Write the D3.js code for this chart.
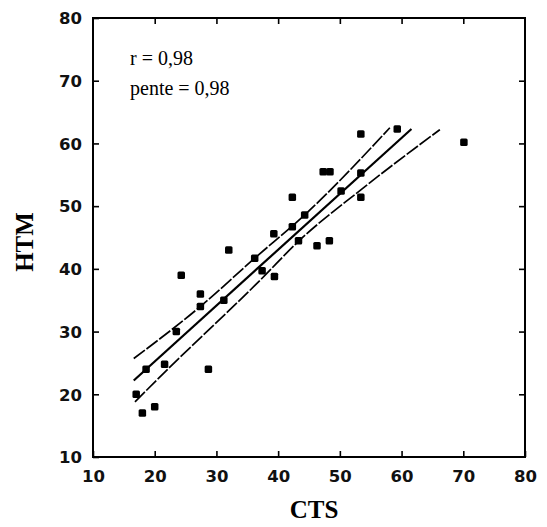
<!DOCTYPE html>
<html>
<head>
<meta charset="utf-8">
<script src="https://cdn.jsdelivr.net/npm/d3@7"></script>
<style>
  body { margin: 0; background: #fff; }
  .tick text { font-family: 'DejaVu Sans', sans-serif; font-weight: bold; font-size: 16.5px; }
</style>
</head>
<body>
<svg id="canvas"></svg>
<script>
// CTS (x) / HTM (y) values
let ctsValues = [17, 18, 20, 18.6, 21.6, 23.5, 24.3, 27.4, 27.4, 28.7, 31.2, 32, 36.2, 37.4, 39.3,
  39.4, 42.3, 42.3, 43.3, 44.3, 46.3, 47.3, 48.4, 48.3, 50.2, 53.4, 53.4, 53.4, 59.3, 70.1]
let htmValues = [20, 17, 18, 24, 24.8, 30, 39, 34, 36, 24, 35, 43, 41.7, 39.7, 45.6,
  38.8, 46.7, 51.4, 44.5, 48.6, 43.7, 55.5, 55.5, 44.5, 52.4, 51.4, 55.3, 61.5, 62.3, 60.2]

// regression line and the two confidence bands
let fitLine = [[16.6, 22.2], [61.6, 62.3]]
let upperBand = [[16.6, 25.7], [27.4, 34], [36.2, 41.7], [44.3, 48.6], [58.1, 62.5]]
let lowerBand = [[16.8, 18.8], [21.6, 23.5], [37.4, 38.5], [43.2, 44.3], [53.4, 52.6], [66.2, 62.2]]

let xTicks = [10, 20, 30, 40, 50, 60, 70, 80]
let yTicks = [10, 20, 30, 40, 50, 60, 70, 80]
let annotations = ['r = 0,98', 'pente = 0,98']

let width = 547
let height = 527
let svg = d3.select('#canvas')
svg.attr('width', width)
svg.attr('height', height)

let pLeft = 93, pRight = 525, pTop = 18, pBottom = 457

let xScale = d3.scaleLinear().domain([10, 80]).range([pLeft, pRight])
let yScale = d3.scaleLinear().domain([10, 80]).range([pBottom, pTop])

// frame
svg.append('rect')
  .attr('x', pLeft).attr('y', pTop)
  .attr('width', pRight - pLeft).attr('height', pBottom - pTop)
  .attr('fill', 'none').attr('stroke', '#000').attr('stroke-width', 2)

// axes with inward ticks
let xAxis = d3.axisBottom(xScale).tickValues(xTicks).tickSizeInner(-6).tickSizeOuter(0).tickPadding(13)
let gx = svg.append('g').attr('transform', 'translate(0,' + pBottom + ')').call(xAxis)

let yAxis = d3.axisLeft(yScale).tickValues(yTicks).tickSizeInner(-6).tickSizeOuter(0).tickPadding(11)
let gy = svg.append('g').attr('transform', 'translate(' + pLeft + ',0)').call(yAxis)

let topAxis = d3.axisTop(xScale).tickValues(xTicks.slice(1, -1)).tickSizeInner(-6).tickSizeOuter(0).tickFormat('')
svg.append('g').attr('transform', 'translate(0,' + pTop + ')').call(topAxis)

let rightAxis = d3.axisRight(yScale).tickValues(yTicks.slice(1, -1)).tickSizeInner(-6).tickSizeOuter(0).tickFormat('')
svg.append('g').attr('transform', 'translate(' + pRight + ',0)').call(rightAxis)

svg.selectAll('.domain').remove()
svg.selectAll('.tick line').attr('stroke', '#000').attr('stroke-width', 1.6)
gx.selectAll('.tick text').attr('fill', '#111')
gy.selectAll('.tick text').attr('fill', '#111').attr('dy', '0.35em')

// lines
let line = d3.line()
  .x((d) => xScale(d[0]))
  .y((d) => yScale(d[1]))
  .curve(d3.curveMonotoneX)

svg.append('path').datum(upperBand).attr('d', line)
  .attr('fill', 'none').attr('stroke', '#000').attr('stroke-width', 1.7).attr('stroke-dasharray', '14,2')
svg.append('path').datum(lowerBand).attr('d', line)
  .attr('fill', 'none').attr('stroke', '#000').attr('stroke-width', 1.7).attr('stroke-dasharray', '14,2')
svg.append('path').datum(fitLine).attr('d', line)
  .attr('fill', 'none').attr('stroke', '#000').attr('stroke-width', 2.2)

// data points
let s = 7.5
svg.selectAll('rect.pt')
  .data(ctsValues)
  .enter()
  .append('rect')
  .attr('class', 'pt')
  .attr('x', (d) => xScale(d) - s / 2)
  .attr('y', (d, i) => yScale(htmValues[i]) - s / 2)
  .attr('width', s)
  .attr('height', s)
  .attr('rx', 1.5)
  .attr('fill', '#000')

// annotation
svg.selectAll('text.note')
  .data(annotations)
  .enter()
  .append('text')
  .attr('class', 'note')
  .attr('x', 130)
  .attr('y', (d, i) => 65 + i * 30)
  .attr('font-family', "'Liberation Serif', serif")
  .attr('font-size', 20)
  .text((d) => d)

// axis titles
svg.append('text')
  .attr('x', 314).attr('y', 518)
  .attr('text-anchor', 'middle')
  .attr('font-family', "'Liberation Serif', serif")
  .attr('font-weight', 'bold')
  .attr('font-size', 25)
  .text('CTS')

svg.append('text')
  .attr('transform', 'translate(33,242) rotate(-90)')
  .attr('text-anchor', 'middle')
  .attr('font-family', "'Liberation Serif', serif")
  .attr('font-weight', 'bold')
  .attr('font-size', 25)
  .text('HTM')
</script>
</body>
</html>
